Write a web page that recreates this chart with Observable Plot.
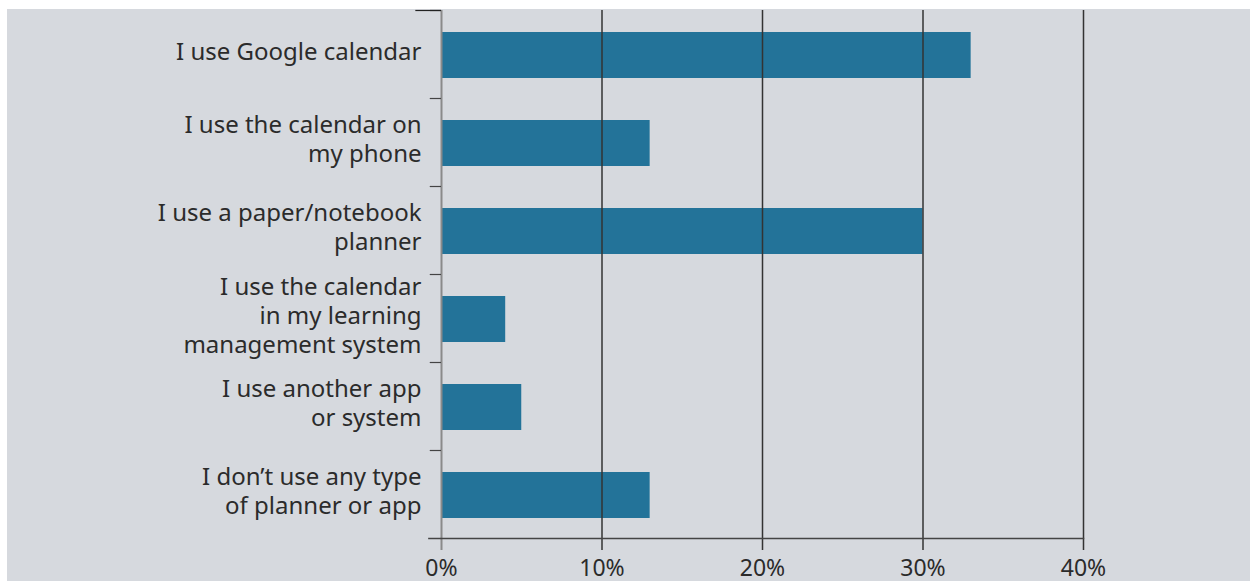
<!DOCTYPE html>
<html>
<head>
<meta charset="utf-8">
<script src="https://cdn.jsdelivr.net/npm/d3@7"></script>
<script src="https://cdn.jsdelivr.net/npm/@observablehq/plot@0.6"></script>
<style>
  html, body { margin: 0; padding: 0; background: #ffffff; }
  #panel { position: absolute; left: 7px; top: 9px; width: 1243px; height: 572px; background: #d6d9de; }
  #panel svg { display: block; }
</style>
</head>
<body>
<div id="panel"></div>
<script>
const categories = [
  "I use Google calendar",
  "I use the calendar on\nmy phone",
  "I use a paper/notebook\nplanner",
  "I use the calendar\nin my learning\nmanagement system",
  "I use another app\nor system",
  "I don\u2019t use any type\nof planner or app"
];
const values = [33, 13, 30, 4, 5, 13];
const xTicks = [0, 10, 20, 30, 40];

const data = categories.map((c, i) => ({label: c, value: values[i]}));
const W = 1243, H = 572, mT = 1, mB = 43;
const band = (H - mT - mB) / categories.length;

const chart = Plot.plot({
  width: W,
  height: H,
  marginLeft: 434,
  marginRight: 167,
  marginTop: mT,
  marginBottom: mB,
  style: {background: "transparent", fontFamily: "'Noto Sans', sans-serif", fontSize: "24px", color: "#2b2b2b"},
  x: {domain: [0, 40], ticks: xTicks, tickFormat: d => d + "%", label: null},
  y: {domain: categories, padding: 0, label: null},
  marks: [
    Plot.barX(data, {x: "value", y: "label", fill: "#237399", insetTop: 22, insetBottom: 20}),
    Plot.ruleX(xTicks.filter(d => d !== 0), {stroke: "#333", strokeWidth: 1.5, insetBottom: -12}),
    Plot.ruleX([0], {stroke: "#8a8a8a", strokeWidth: 2, insetBottom: -12}),
    Plot.frame({anchor: "bottom", stroke: "#444", strokeWidth: 1.5}),
    Plot.ruleY(categories, {y: d => d, x1: -0.7, x2: 0, dy: -band / 2, stroke: "#444", strokeWidth: 1.2}),
    Plot.ruleY(categories.slice(-1), {y: d => d, x1: -0.8, x2: 0, dy: band / 2, stroke: "#444", strokeWidth: 1.5}),
    Plot.ruleY(categories.slice(0, 1), {y: d => d, x1: -1.6, x2: 0, dy: -band / 2, stroke: "#222", strokeWidth: 1.2}),
    Plot.axisX({ticks: xTicks, tickFormat: d => d + "%", tickSize: 0, tickPadding: 21, fontSize: 23, label: null}),
    Plot.axisY({tickSize: 0, tickPadding: 20, lineHeight: 1.21, fontSize: 24, dy: -4, label: null})
  ]
});
document.getElementById("panel").appendChild(chart);
</script>
</body>
</html>
